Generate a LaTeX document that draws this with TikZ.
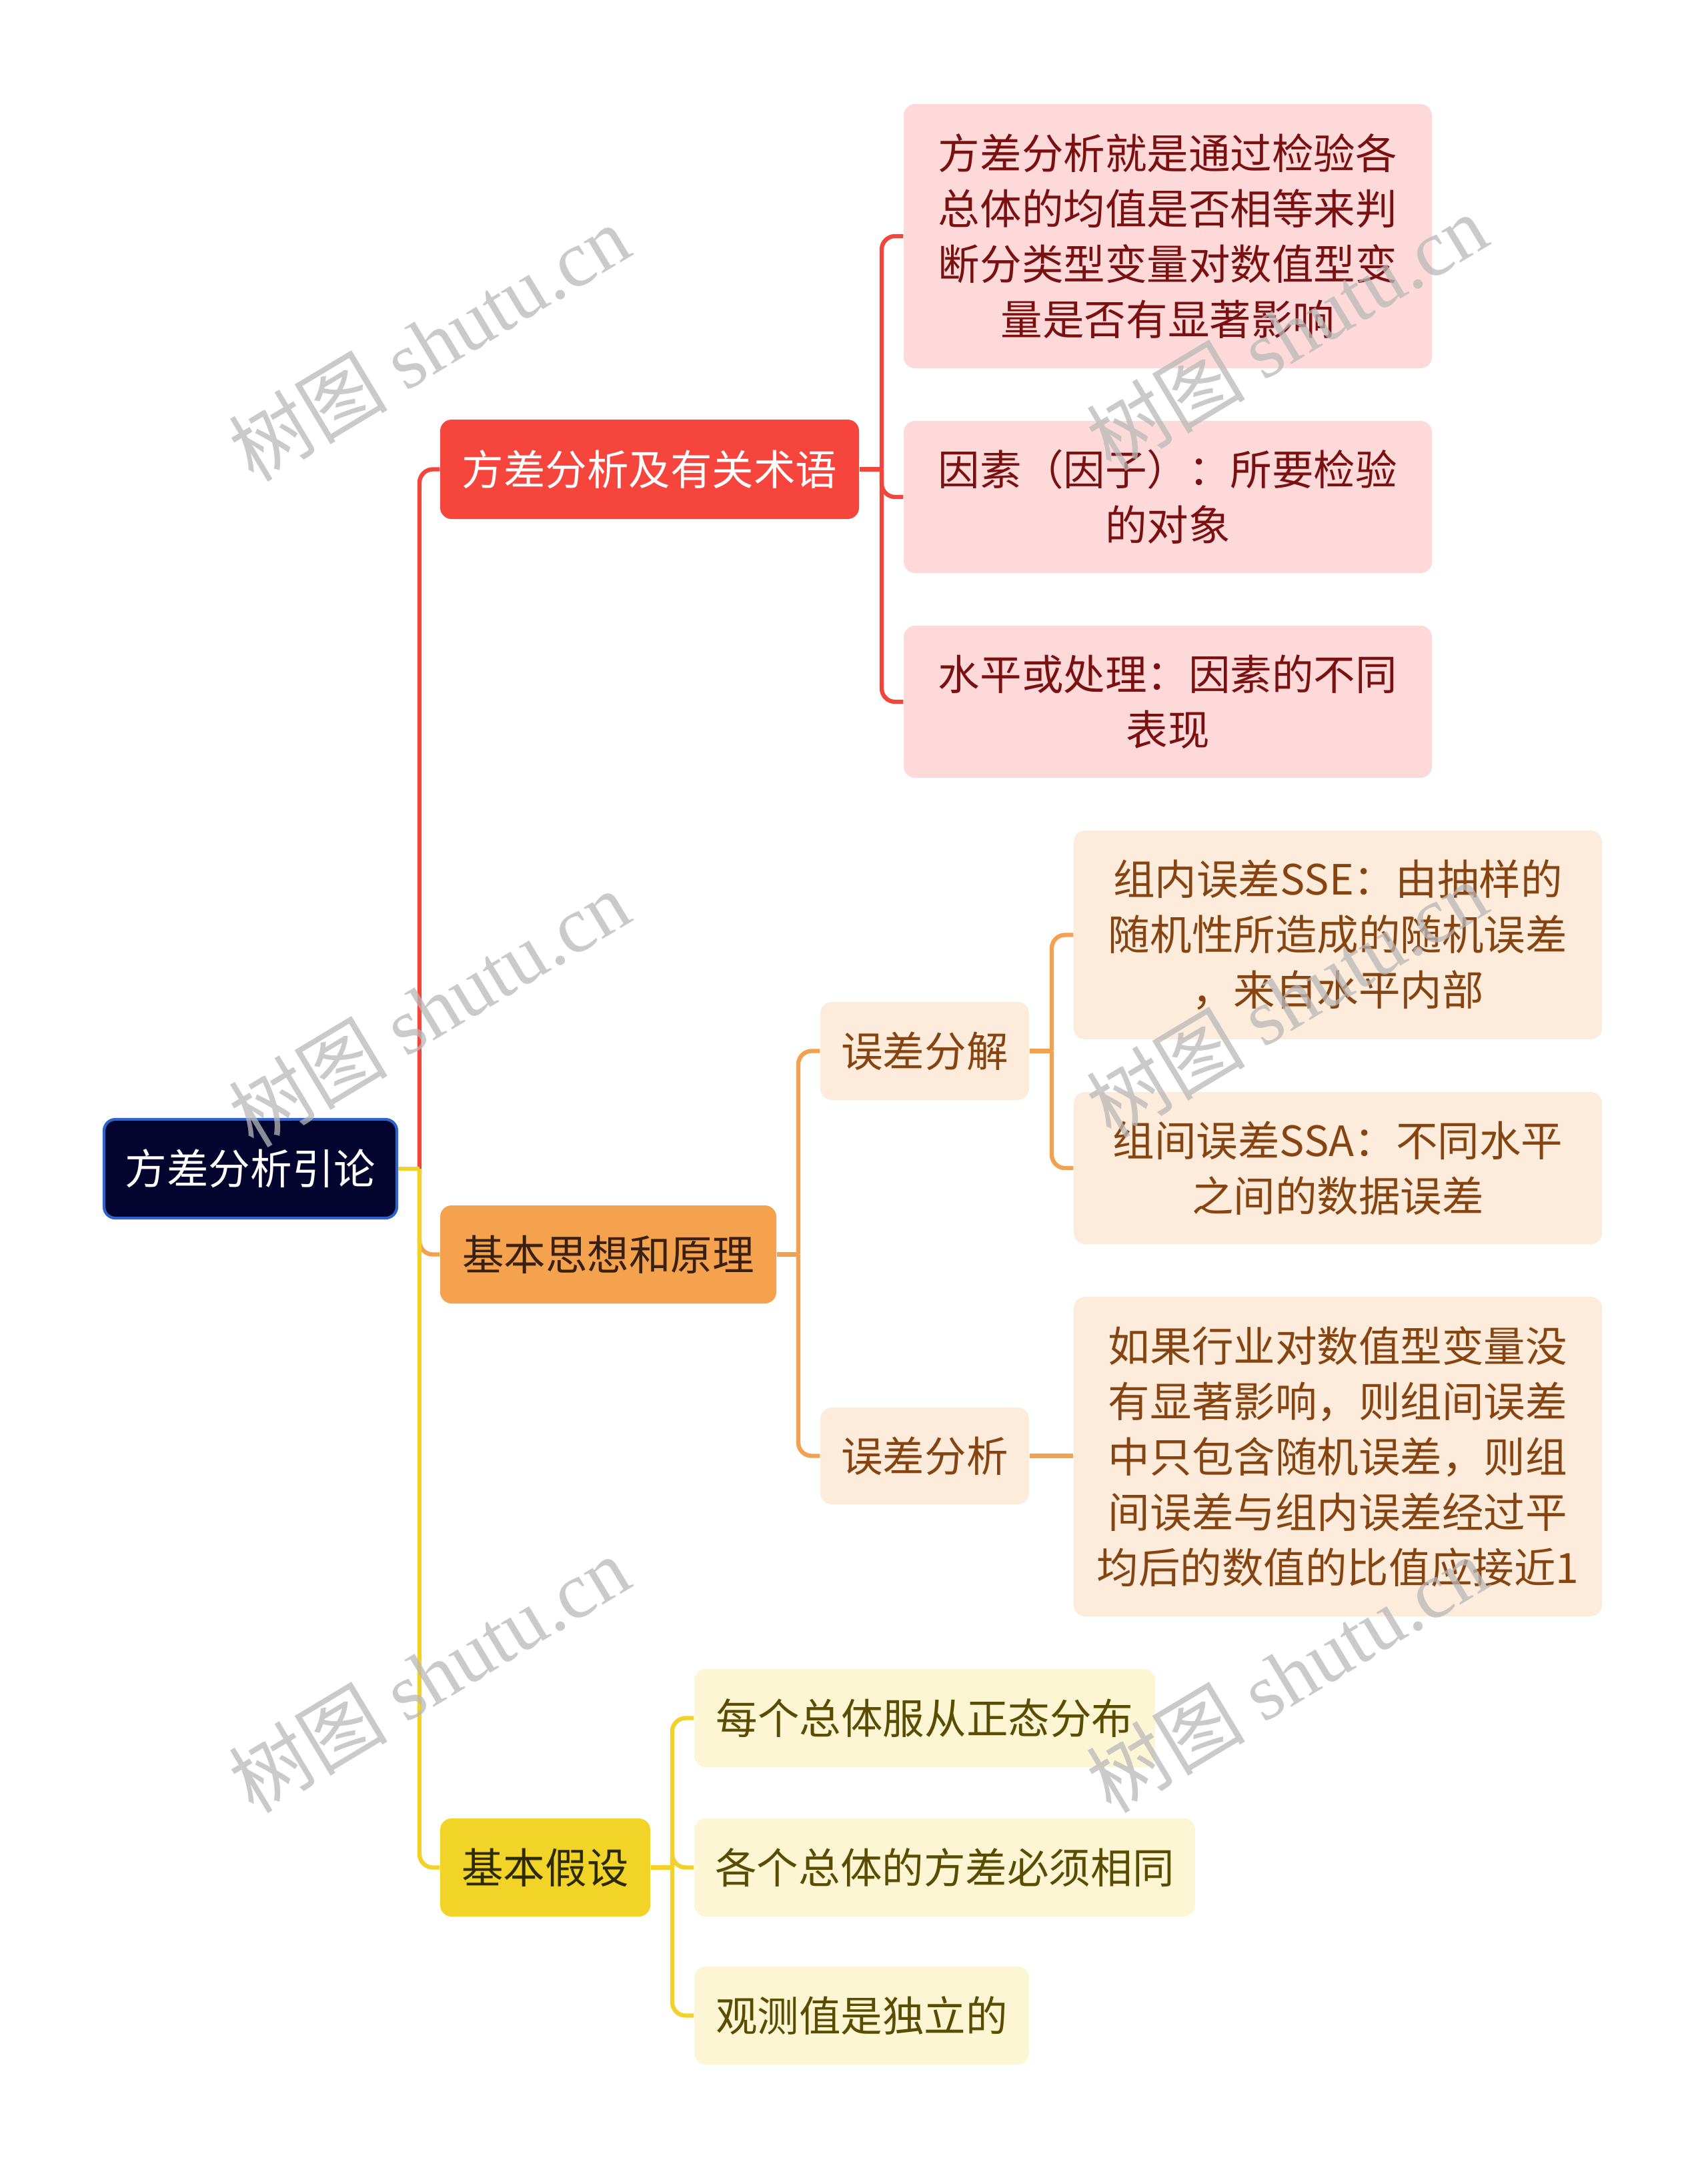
\documentclass[tikz,border=0pt]{standalone}
\usepackage{fontspec}
\setmainfont{Noto Sans CJK SC}
\newfontfamily\wmserif{Liberation Serif}
\usetikzlibrary{calc}
\definecolor{rootfill}{HTML}{03052E}
\definecolor{rootborder}{HTML}{2F62CC}
\definecolor{redmain}{HTML}{F5453D}
\definecolor{redline}{HTML}{F0463C}
\definecolor{redsub}{HTML}{FDD9D9}
\definecolor{redtext}{HTML}{7A1010}
\definecolor{orgmain}{HTML}{F5A24E}
\definecolor{orgline}{HTML}{F2A150}
\definecolor{orgsub}{HTML}{FDEBDB}
\definecolor{orgtext}{HTML}{864410}
\definecolor{orgdark}{HTML}{3A2010}
\definecolor{ylwmain}{HTML}{F2D327}
\definecolor{ylwline}{HTML}{F2D22A}
\definecolor{ylwsub}{HTML}{FCF6D4}
\definecolor{ylwtext}{HTML}{5A4C00}
\definecolor{ylwdark}{HTML}{2E2A00}
\definecolor{wmgray}{HTML}{B8B8B8}
\begin{document}
\begin{tikzpicture}[x=1cm,y=1cm,
  box/.style={rounded corners=0.17cm, align=center, inner sep=0pt,
    font=\fontsize{17.8pt}{23.6pt}\selectfont},
  rootbox/.style={box, fill=rootfill, draw=rootborder, line width=1.2pt, text=white},
  redbox/.style={box, fill=redmain, text=white},
  redchild/.style={box, fill=redsub, text=redtext},
  orgbox/.style={box, fill=orgmain, text=orgdark},
  orgchild/.style={box, fill=orgsub, text=orgtext},
  ylwbox/.style={box, fill=ylwmain, text=ylwdark},
  ylwchild/.style={box, fill=ylwsub, text=ylwtext},
  conn/.style={line width=1.8pt},
  rconn/.style={conn, draw=redline},
  oconn/.style={conn, draw=orgline},
  yconn/.style={conn, draw=ylwline},
  wm/.style={text=wmgray, opacity=0.75, rotate=31,
    font=\fontsize{34pt}{34pt}\selectfont}
]
\useasboundingbox (0,0) rectangle (25.6,-32.53);

% nodes
\node[rootbox, minimum width=4.39cm, minimum height=1.48cm] (root) at (3.755,-17.52) {方差分析引论};

\node[redbox, minimum width=6.28cm, minimum height=1.49cm] (R) at (9.74,-7.035) {方差分析及有关术语};
\node[orgbox, minimum width=5.04cm, minimum height=1.47cm] (O) at (9.12,-18.805) {基本思想和原理};
\node[ylwbox, minimum width=3.15cm, minimum height=1.47cm] (Y) at (8.175,-27.995) {基本假设};

\node[redchild, minimum width=7.92cm, minimum height=3.96cm] (A1) at (17.51,-3.54)
  {方差分析就是通过检验各\\总体的均值是否相等来判\\断分类型变量对数值型变\\量是否有显著影响};
\node[redchild, minimum width=7.92cm, minimum height=2.28cm] (A2) at (17.51,-7.45)
  {因素（因子）：所要检验\\的对象};
\node[redchild, minimum width=7.92cm, minimum height=2.28cm] (A3) at (17.51,-10.52)
  {水平或处理：因素的不同\\表现};

\node[orgchild, minimum width=3.13cm, minimum height=1.47cm] (Ob1) at (13.865,-15.755) {误差分解};
\node[orgchild, minimum width=3.13cm, minimum height=1.45cm] (Ob2) at (13.865,-21.825) {误差分析};

\node[orgchild, minimum width=7.92cm, minimum height=3.13cm] (B1) at (20.06,-14.015)
  {组内误差SSE：由抽样的\\随机性所造成的随机误差\\，来自水平内部};
\node[orgchild, minimum width=7.92cm, minimum height=2.28cm] (B2) at (20.06,-17.51)
  {组间误差SSA：不同水平\\之间的数据误差};
\node[orgchild, minimum width=7.92cm, minimum height=4.79cm] (B3) at (20.06,-21.835)
  {如果行业对数值型变量没\\有显著影响，则组间误差\\中只包含随机误差，则组\\间误差与组内误差经过平\\均后的数值的比值应接近1};

\node[ylwchild, minimum width=6.91cm, minimum height=1.47cm] (C1) at (13.865,-25.755) {每个总体服从正态分布};
\node[ylwchild, minimum width=7.51cm, minimum height=1.47cm] (C2) at (14.165,-27.995) {各个总体的方差必须相同};
\node[ylwchild, minimum width=5.02cm, minimum height=1.47cm] (C3) at (12.92,-30.215) {观测值是独立的};

% trunk coordinates
\coordinate (t0) at (6.29,0);
\coordinate (tR) at (13.22,0);
\coordinate (tO) at (11.97,0);
\coordinate (tOb) at (15.77,0);
\coordinate (tY) at (10.08,0);

% root connectors
\draw[rconn] (root.east) -- (root.east -| t0);
\draw[rconn, rounded corners=0.2cm] (root.east -| t0) |- (R.west);
\draw[oconn, rounded corners=0.2cm] (root.east -| t0) |- (O.west);
\draw[yconn] (root.east) -- (root.east -| t0);
\draw[yconn, rounded corners=0.2cm] (root.east -| t0) |- (Y.west);

% red connectors
\draw[rconn] (R.east) -- (R.east -| tR);
\draw[rconn, rounded corners=0.2cm] (R.east -| tR) |- (A1.west);
\draw[rconn, rounded corners=0.2cm] (R.east -| tR) |- (A2.west);
\draw[rconn, rounded corners=0.2cm] (R.east -| tR) |- (A3.west);

% orange connectors
\draw[oconn] (O.east) -- (O.east -| tO);
\draw[oconn, rounded corners=0.2cm] (O.east -| tO) |- (Ob1.west);
\draw[oconn, rounded corners=0.2cm] (O.east -| tO) |- (Ob2.west);
\draw[oconn] (Ob1.east) -- (Ob1.east -| tOb);
\draw[oconn, rounded corners=0.2cm] (Ob1.east -| tOb) |- (B1.west);
\draw[oconn, rounded corners=0.2cm] (Ob1.east -| tOb) |- (B2.west);
\draw[oconn] (Ob2.east) -- (B3.west |- Ob2.east);

% yellow connectors
\draw[yconn] (Y.east) -- (Y.east -| tY);
\draw[yconn, rounded corners=0.2cm] (Y.east -| tY) |- (C1.west);
\draw[yconn, rounded corners=0.2cm] (Y.east -| tY) |- (C2.west);
\draw[yconn, rounded corners=0.2cm] (Y.east -| tY) |- (C3.west);

% watermarks
\node[wm] (w1) at (6.43,-5.14) {树图 {\wmserif shutu.cn}};
\node[wm] (w2) at (19.29,-4.98) {树图 {\wmserif shutu.cn}};
\node[wm] (w3) at (6.43,-15.12) {树图 {\wmserif shutu.cn}};
\node[wm] (w4) at (19.29,-14.98) {树图 {\wmserif shutu.cn}};
\node[wm] (w5) at (6.43,-25.10) {树图 {\wmserif shutu.cn}};
\node[wm] (w6) at (19.29,-25.10) {树图 {\wmserif shutu.cn}};
\end{tikzpicture}
\end{document}
